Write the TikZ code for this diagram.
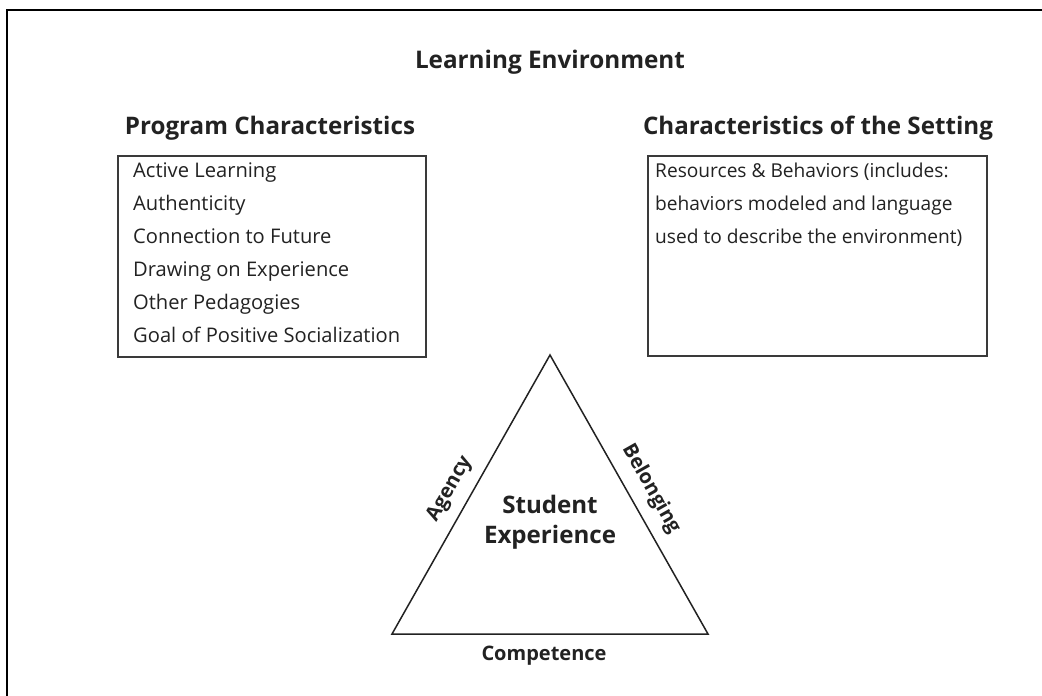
\documentclass[tikz,border=0pt]{standalone}
\usepackage{fontspec}
\setmainfont{Open Sans}
\definecolor{ink}{HTML}{222222}
\definecolor{frame}{HTML}{3A3A3A}
\newlength\fitlen
\begin{document}
% font sizes chosen so that sample texts get the widths they have in the reference
\settowidth\fitlen{\fontsize{10}{12}\selectfont Goal of Positive Socialization}%
\pgfmathsetmacro\szItem{10*267/\fitlen}%
\settowidth\fitlen{\fontsize{10}{12}\selectfont used to describe the environment)}%
\pgfmathsetmacro\szRit{10*307/\fitlen}%
\settowidth\fitlen{\bfseries\fontsize{10}{12}\selectfont Characteristics of the Setting}%
\pgfmathsetmacro\szHead{10*350/\fitlen}%
\settowidth\fitlen{\bfseries\fontsize{10}{12}\selectfont Learning Environment}%
\pgfmathsetmacro\szTitle{10*270/\fitlen}%
\settowidth\fitlen{\bfseries\fontsize{10}{12}\selectfont Experience}%
\pgfmathsetmacro\szSE{10*132/\fitlen}%
\settowidth\fitlen{\bfseries\fontsize{10}{12}\selectfont Competence}%
\pgfmathsetmacro\szSide{10*125/\fitlen}%
\begin{tikzpicture}[x=1pt,y=-1pt,
  txt/.style={inner sep=0pt, text=ink},
  item/.style={txt, anchor=base west, font=\fontsize{\szItem}{23}\selectfont},
  ritem/.style={txt, anchor=base west, font=\fontsize{\szRit}{22}\selectfont},
  head/.style={txt, anchor=base, font=\bfseries\fontsize{\szHead}{28}\selectfont},
  box/.style={draw=frame, line width=1.7pt, rectangle, inner sep=0pt},
  side/.style={txt, font=\bfseries\fontsize{\szSide}{24}\selectfont},
  core/.style={txt, anchor=base, font=\bfseries\fontsize{\szSE}{28}\selectfont}]
\useasboundingbox (0,0) rectangle (1042,696);
\fill[white] (0,0) rectangle (1042,696);
% outer frame (only top and left edges visible)
\coordinate (fbl) at (7,696);
\coordinate (ftl) at (7,10);
\coordinate (ftr) at (1042,10);
\draw[line width=2.2pt, black] (fbl) -- (ftl) -- (ftr);

\node[txt, anchor=base, font=\bfseries\fontsize{\szTitle}{28}\selectfont] (title) at (550,68) {Learning Environment};

\node[head] (hpc) at (270,134) {Program Characteristics};
\node[head] (hcs) at (818,134) {Characteristics of the Setting};

\node[box, minimum width=308pt, minimum height=201pt] (pc) at (272,256.5) {};
\node[box, minimum width=339pt, minimum height=200pt] (cs) at (817.5,256) {};

\node[item] (i1) at (133,177) {Active Learning};
\node[item] (i2) at (133,210) {Authenticity};
\node[item] (i3) at (133,243) {Connection to Future};
\node[item] (i4) at (133,276) {Drawing on Experience};
\node[item] (i5) at (133,309) {Other Pedagogies};
\node[item] (i6) at (133,342) {Goal of Positive Socialization};

\node[ritem] (r1) at (655,177) {Resources \& Behaviors (includes:};
\node[ritem] (r2) at (655,210) {behaviors modeled and language};
\node[ritem] (r3) at (655,243) {used to describe the environment)};

% triangle
\coordinate (ta) at (550,355);
\coordinate (tl) at (392,634);
\coordinate (tr) at (708,634);
\draw[line width=1.5pt, ink, line join=miter] (ta) -- (tl) -- (tr) -- cycle;

\node[core] (se1) at (550,513) {Student};
\node[core] (se2) at (550,543) {Experience};

\node[side, anchor=base] (comp) at (544,660) {Competence};
\node[side, rotate=60.5] (ag) at (450,489) {Agency};
\node[side, rotate=-60.5] (bel) at (651,489) {Belonging};
\end{tikzpicture}
\end{document}
